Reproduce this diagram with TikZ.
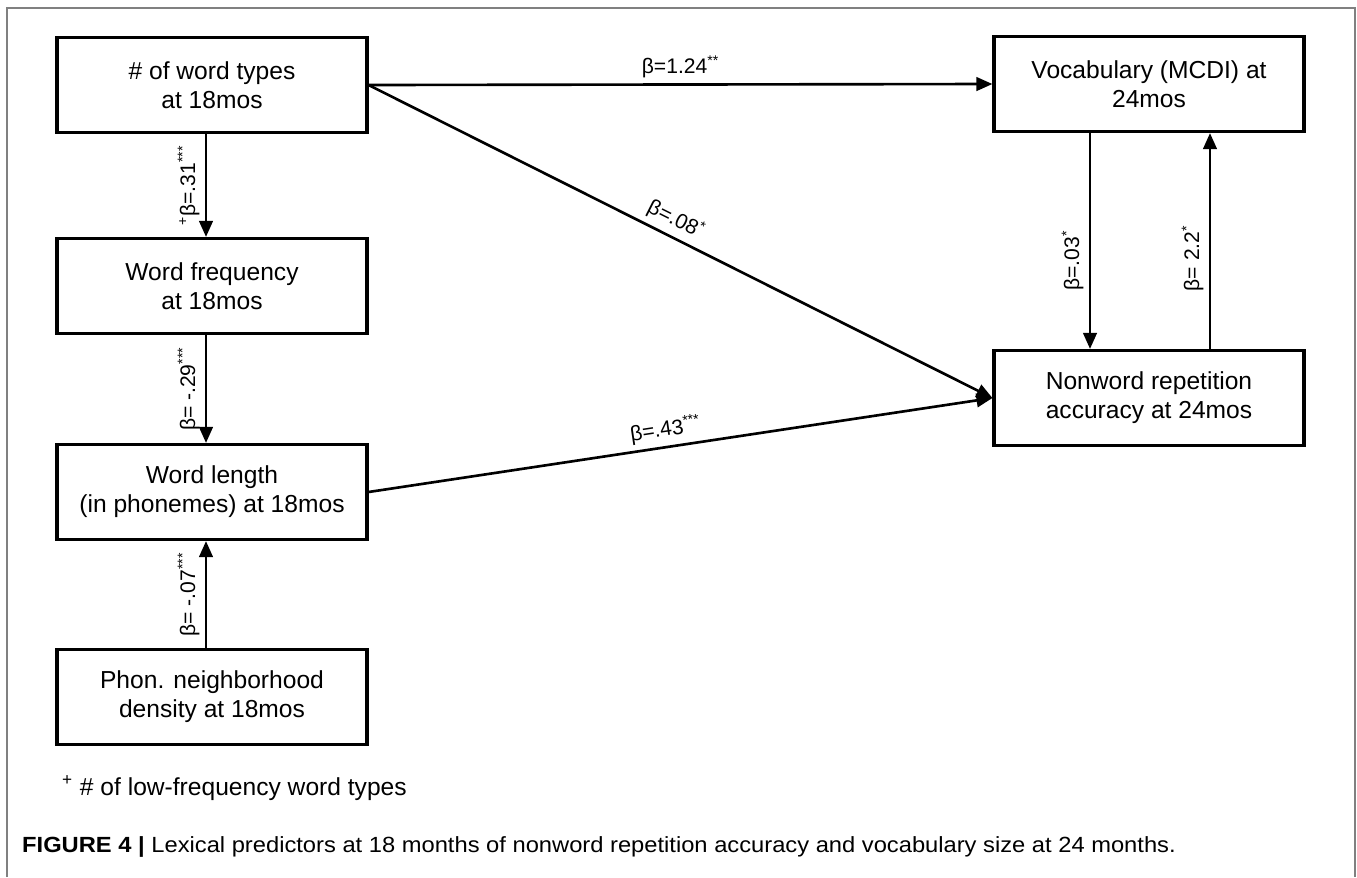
\documentclass[tikz,border=0pt]{standalone}
\usepackage{fontspec}
\setmainfont{Liberation Sans}
\newfontfamily\capfont[FakeStretch=1.08]{Liberation Sans}
\usetikzlibrary{arrows.meta,shadows}

\tikzset{
  var/.style={draw, line width=1.8pt, fill=white, minimum width=6.2cm, minimum height=1.9cm,
    align=center, font=\fontsize{14}{16.5}\selectfont,
    drop shadow={opacity=0.18, shadow xshift=0.6pt, shadow yshift=-1pt}},
  link/.style={-{Triangle[length=0.32cm,width=0.27cm]}, line width=1.5pt},
  coef/.style={font=\fontsize{12}{14}\selectfont, inner sep=3pt},
}

\begin{document}
\begin{tikzpicture}[x=0.02cm, y=-0.02cm]
\useasboundingbox (0,0) rectangle (1357,877);
\draw[gray, line width=1pt] (7,877) -- (7,8) -- (1355,8) -- (1355,877);

\node[var] (types) at (212,85) {\# of word types\\at 18mos};
\node[var] (freq) at (212,286) {Word frequency\\at 18mos};
\node[var] (length) at (212,492) {Word length\\(in phonemes) at 18mos};
\node[var] (dens) at (212,697) {Phon. neighborhood\\density at 18mos};
\node[var] (vocab) at (1149,84) {Vocabulary (MCDI) at\\24mos};
\node[var] (nwr) at (1149,398) {Nonword repetition\\accuracy at 24mos};

\draw[link] (types.east) -- node[midway, coef, above] {β=1.24\textsuperscript{**}} (vocab.west);
\draw[link] (types.east) -- node[pos=.48, coef, sloped, above] {β=.08\textsuperscript{*}} (nwr.west);
\draw[link] (length.east) -- node[pos=.48, coef, sloped, above] {β=.43\textsuperscript{***}} (nwr.west);

\draw[link] ([xshift=-0.12cm]types.south) -- node[midway, coef, rotate=90, anchor=south] {\textsuperscript{+}β=.31\textsuperscript{***}} ([xshift=-0.12cm]freq.north);
\draw[link] ([xshift=-0.12cm]freq.south) -- node[midway, coef, rotate=90, anchor=south] {β= -.29\textsuperscript{***}} ([xshift=-0.12cm]length.north);
\draw[link] ([xshift=-0.12cm]dens.north) -- node[midway, coef, rotate=90, anchor=south] {β= -.07\textsuperscript{***}} ([xshift=-0.12cm]length.south);

\draw[link] ([xshift=-1.18cm]vocab.south) -- node[pos=.59, coef, rotate=90, anchor=south] {β=.03\textsuperscript{*}} ([xshift=-1.18cm]nwr.north);
\draw[link] ([xshift=1.22cm]nwr.north) -- node[pos=.42, coef, rotate=90, anchor=south] {β= 2.2\textsuperscript{*}} ([xshift=1.22cm]vocab.south);

\node[anchor=west, font=\fontsize{14}{16}\selectfont] (note) at (56,788) {\textsuperscript{+} \# of low-frequency word types};
\node[anchor=west, font=\capfont\fontsize{12.5}{14}\selectfont] (cap) at (16,847) {\textbf{FIGURE 4 |} Lexical predictors at 18 months of nonword repetition accuracy and vocabulary size at 24 months.};
\end{tikzpicture}
\end{document}
